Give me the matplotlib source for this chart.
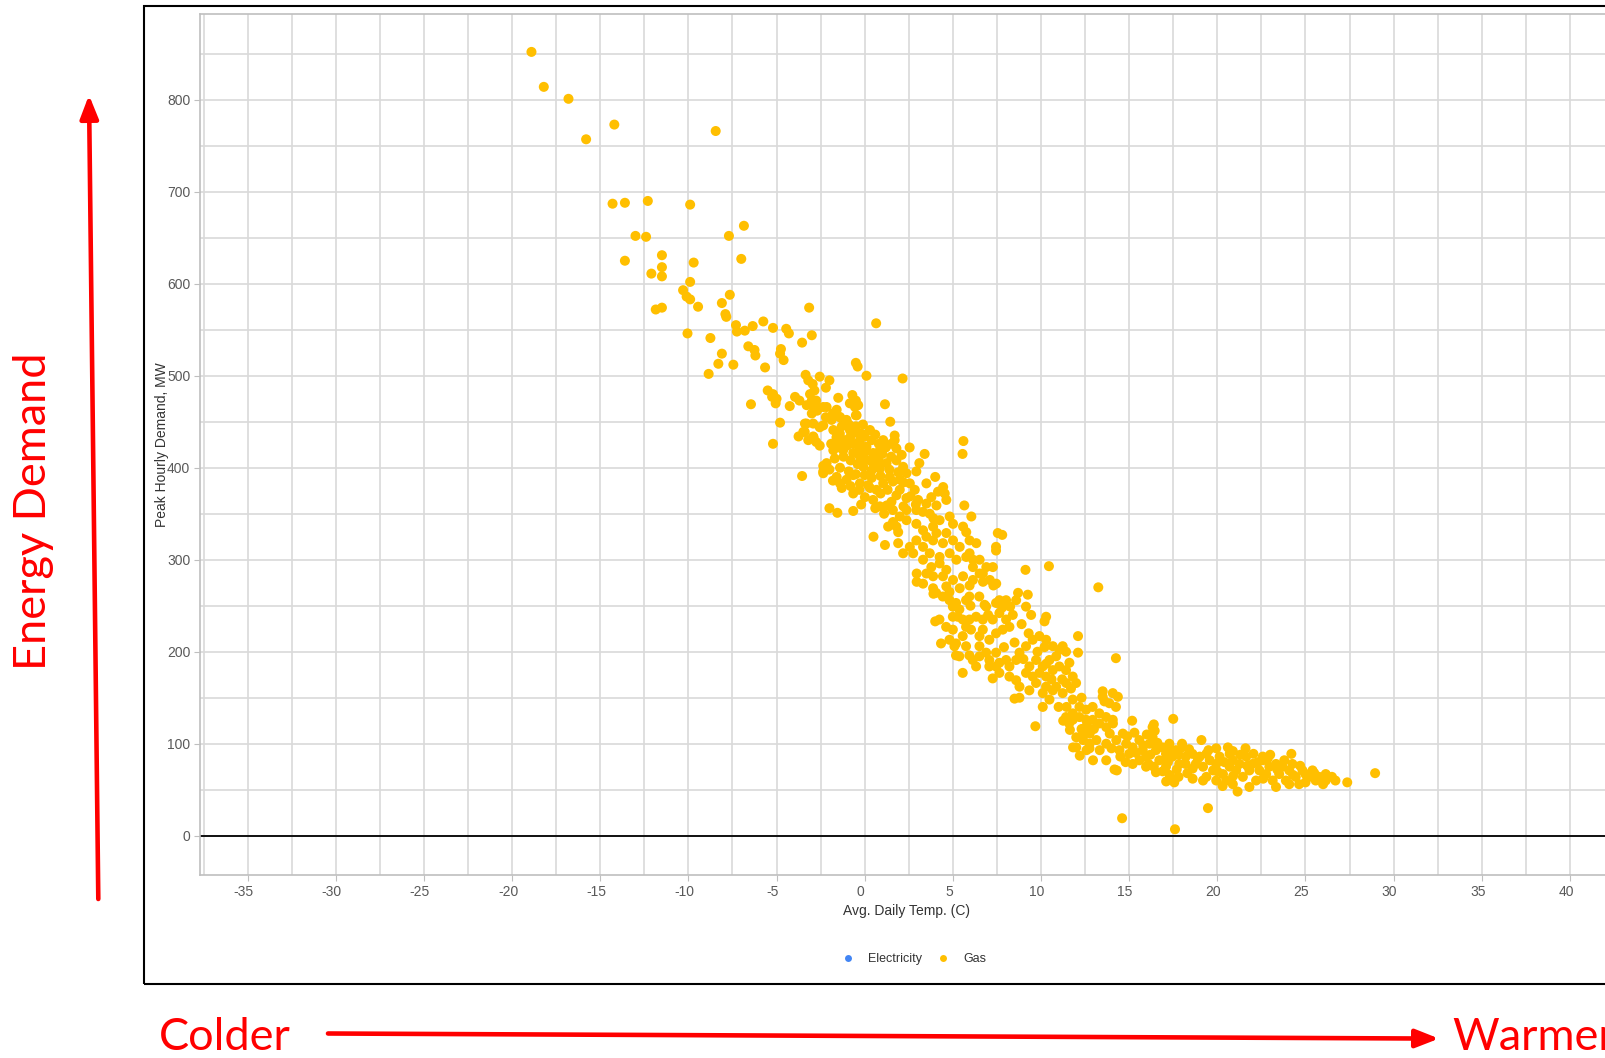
"""Peak hourly gas demand vs. average daily temperature, with red 'colder/warmer' call-outs."""

import matplotlib

matplotlib.use("Agg")
import matplotlib.pyplot as plt  # noqa: E402
import numpy as np  # noqa: E402
from matplotlib.lines import Line2D  # noqa: E402
from matplotlib.patches import FancyArrowPatch, Rectangle  # noqa: E402
from matplotlib.transforms import ScaledTranslation  # noqa: E402

plt.rcParams["font.family"] = ["Liberation Sans", "DejaVu Sans"]
plt.rcParams["axes.unicode_minus"] = False

# (avg daily temp C, peak hourly demand MW)
cold_tail = [
    (-18.9, 852), (-18.2, 814), (-16.8, 801), (-14.2, 773), (-15.8, 757), (-8.45, 766),
    (-14.3, 687), (-13.6, 688), (-12.3, 690), (-9.9, 686), (-6.85, 663), (-7.7, 652),
    (-13.0, 652), (-12.4, 651), (-13.6, 625), (-11.5, 631), (-11.5, 618), (-11.5, 608),
    (-12.1, 611), (-9.7, 623), (-7.0, 627), (-9.9, 602), (-10.3, 593), (-10.1, 586),
    (-9.9, 583), (-9.45, 575), (-11.85, 572), (-11.5, 574), (-8.1, 579), (-7.65, 588),
    (-7.9, 567), (-7.85, 564), (-7.3, 555), (-7.25, 548), (-6.8, 549), (-6.35, 554),
    (-5.75, 559), (-5.2, 552), (-4.45, 551), (-4.3, 546), (-10.05, 546), (-8.75, 541),
    (-8.1, 524), (-6.6, 532), (-6.25, 528), (-6.2, 522), (-4.75, 529), (-4.8, 524),
    (-3.15, 574), (0.65, 557), (-3.0, 544), (-3.55, 536), (-4.6, 517),
    (-8.85, 502), (-8.3, 513), (-7.45, 512), (-5.65, 509),
]

upper_band = [
    (-6.45, 469), (-5.5, 484), (-5.2, 480), (-5.0, 475), (-5.05, 470), (-5.25, 477),
    (-4.25, 467), (-3.95, 477), (-3.7, 473), (-4.8, 449), (-5.2, 426), (-3.55, 391),
    (-3.75, 434), (-3.4, 439), (-3.3, 448), (-3.35, 501), (-3.2, 495), (-2.95, 491),
    (-2.85, 484), (-3.1, 480), (-3.0, 473), (-2.75, 473), (-2.85, 466), (-2.55, 499),
    (-2.0, 495), (-2.2, 487), (-3.0, 459), (-2.7, 462), (-2.35, 466), (-2.55, 444),
    (-2.2, 455), (-1.8, 459), (-1.4, 455), (-2.9, 433), (-2.75, 428), (-2.55, 424),
    (-1.5, 476), (-0.7, 479), (-0.5, 473), (-0.55, 466), (-0.5, 457), (-0.5, 514),
    (-0.4, 510), (0.1, 500), (2.15, 497), (1.15, 469), (1.45, 450), (1.7, 435),
    (1.7, 430), (2.55, 422), (1.05, 430), (-1.05, 451), (3.4, 415), (5.6, 429),
    (5.55, 415), (3.1, 405), (4.0, 390), (3.5, 383), (4.45, 379),
    (-2.35, 402), (-2.35, 394), (-2.0, 356), (-1.55, 351), (-0.65, 353), (-1.8, 386),
    (-1.4, 383),
]

core = [
    (-3.29, 468), (-2.82, 470), (-2.16, 466), (-1.59, 463), (-0.84, 470), (-0.37, 468),
    (-0.46, 457), (-1.03, 452), (-1.41, 455), (-1.88, 452), (-2.35, 446), (-2.92, 448),
    (-3.39, 448), (-3.48, 439), (-2.92, 434), (-3.2, 430), (-1.78, 441), (-1.41, 437),
    (-0.84, 441), (-1.59, 426), (-1.12, 430), (-0.65, 426), (-0.18, 437), (-0.27, 430),
    (0.1, 423), (0.48, 416), (1.52, 426), (1.8, 421), (0.86, 419), (0.29, 408),
    (-0.27, 412), (-0.65, 416), (-1.22, 419), (-1.78, 419), (-2.16, 405), (-2.35, 396),
    (-1.59, 390), (-1.03, 387), (-0.65, 392), (-0.08, 401), (0.39, 397), (0.86, 399),
    (1.24, 405), (1.8, 408), (2.18, 401), (2.37, 394), (1.99, 387), (1.42, 390),
    (1.05, 383), (0.67, 376), (0.2, 381), (-0.27, 383), (-0.65, 372), (0.01, 368),
    (0.48, 365), (0.86, 358), (1.52, 363), (1.99, 376), (2.56, 383), (2.93, 396),
    (2.84, 376), (2.37, 367), (3.03, 365), (3.5, 361), (3.78, 368), (4.16, 374),
    (4.54, 372), (4.63, 365), (4.07, 359), (3.69, 350), (2.93, 354), (2.37, 354),
    (1.99, 347), (1.61, 341), (1.33, 336), (1.8, 336), (2.37, 343), (2.93, 339),
    (-1.3, 445), (-0.9, 447), (-0.5, 445), (-0.1, 447), (0.3, 441), (0.6, 436),
    (-1.6, 433), (-0.8, 434), (-0.4, 438), (0.0, 434), (0.4, 430), (0.8, 426),
    (1.2, 422), (-1.9, 426), (-1.4, 422), (-1.0, 424), (-0.3, 421), (0.1, 418),
    (0.6, 412), (1.0, 415), (1.5, 412), (2.1, 414), (-1.7, 410), (-1.2, 412),
    (-0.8, 408), (-0.4, 404), (0.0, 409), (0.5, 404), (0.8, 407), (1.4, 398),
    (1.9, 395), (-2.0, 398), (-1.4, 400), (-0.9, 396), (-0.5, 393), (0.0, 392),
    (0.4, 389), (0.9, 391), (1.6, 385), (2.2, 384), (-1.3, 378), (-0.8, 380),
    (-0.3, 376), (0.3, 378), (0.9, 372), (1.3, 376), (1.8, 370), (2.6, 369),
    (-0.2, 360), (0.6, 356), (1.1, 350), (1.6, 354), (2.2, 358), (2.9, 360),
    (3.3, 352), (3.9, 345),
]

mid_upper = [
    (3.31, 332), (3.88, 336), (4.25, 343), (4.82, 347), (5.01, 339), (5.58, 336),
    (5.76, 330), (4.63, 329), (4.07, 329), (3.5, 325), (2.93, 321), (2.56, 314),
    (2.18, 307), (2.75, 307), (3.31, 314), (3.88, 321), (4.44, 318), (5.01, 321),
    (5.39, 314), (5.95, 321), (6.33, 318), (4.82, 307), (4.25, 303), (3.69, 307),
    (3.31, 300), (3.78, 292), (4.25, 296), (4.63, 289), (5.2, 300), (5.76, 303),
    (6.14, 292), (6.52, 300), (6.9, 292), (7.27, 292), (6.52, 285), (6.14, 278),
    (5.58, 282), (5.01, 278), (4.44, 282), (3.88, 282), (3.5, 285), (3.31, 274),
    (3.88, 269), (4.63, 271), (5.39, 269), (5.95, 272), (6.71, 276), (7.46, 274),
    (0.5, 325), (1.15, 316), (1.9, 318), (1.9, 330), (1.25, 359), (5.65, 359),
    (6.05, 347), (7.55, 329), (7.8, 327), (7.45, 314), (7.45, 310), (2.95, 285),
    (2.95, 276), (3.9, 263), (6.7, 285), (5.95, 307), (6.15, 300), (7.1, 278),
    (7.3, 272),
]

mid_band = [
    (8.7, 264), (9.25, 262), (8.59, 256), (9.44, 240), (9.12, 289), (10.45, 293),
    (13.25, 270), (8.02, 256), (7.64, 256), (7.45, 253), (6.8, 251), (10.29, 238),
    (10.2, 233), (12.1, 217), (12.1, 199), (11.23, 206), (11.42, 200), (14.25, 193),
    (4.0, 233), (4.33, 209), (5.56, 177), (5.94, 196), (5.18, 196), (5.09, 206),
    (7.26, 171), (8.5, 149), (8.78, 150), (9.68, 119), (13.5, 157), (13.6, 146),
    (4.81, 256), (5.0, 249), (5.18, 253), (5.37, 246), (5.75, 256), (5.94, 260),
    (5.28, 238), (5.56, 235), (5.75, 227), (6.32, 238), (6.7, 235), (6.89, 249),
    (7.26, 235), (7.64, 242), (8.02, 235), (8.21, 227), (7.83, 224), (7.45, 220),
    (7.07, 213), (6.7, 224), (6.51, 217), (6.51, 206), (6.89, 199), (7.07, 191),
    (7.45, 199), (7.64, 188), (8.02, 191), (8.21, 184), (8.59, 191), (8.78, 199),
    (9.15, 206), (9.53, 213), (9.91, 217), (10.29, 213), (10.67, 206), (11.04, 202),
    (10.86, 195), (10.48, 191), (10.1, 184), (9.72, 191), (9.34, 184), (9.15, 177),
    (9.53, 173), (9.91, 177), (10.29, 173), (10.67, 180), (11.04, 184), (11.42, 180),
    (11.61, 188), (11.8, 173), (11.99, 166), (11.42, 166), (10.86, 162), (10.29, 162),
    (9.72, 166), (9.34, 158), (8.78, 162), (8.59, 169), (8.21, 173), (7.64, 177),
    (7.45, 184), (7.07, 184), (10.1, 155), (10.48, 148), (10.1, 140), (10.67, 158),
    (11.23, 155), (11.8, 148), (12.18, 140), (12.56, 137), (12.93, 140), (13.31, 133),
    (13.69, 129), (14.07, 126), (12.56, 126), (11.8, 126), (11.42, 129), (12.18, 129),
    (12.93, 126), (13.31, 122), (13.88, 144), (13.5, 151), (14.07, 155), (14.25, 140),
    (4.05, 264), (4.43, 260), (4.81, 265), (5.0, 238), (4.24, 235), (4.62, 227),
    (5.0, 224), (4.81, 213), (5.18, 209), (5.56, 217), (5.75, 206), (5.37, 195),
    (6.13, 191), (6.32, 184), (6.51, 195), (5.94, 235), (6.03, 224),
    (9.15, 249), (8.25, 249), (10.2, 205), (10.3, 187),
    (6.0, 250), (6.5, 260), (7.0, 240), (7.8, 248), (8.4, 240), (8.9, 230),
    (9.3, 220), (8.5, 210), (7.9, 205), (9.0, 192), (9.8, 200), (10.6, 170),
    (11.2, 170), (11.7, 160), (12.3, 150), (11.0, 140), (12.4, 112),
]

lower_band = [
    (11.26, 125), (11.64, 115), (12.0, 107), (12.0, 96), (12.39, 104), (12.76, 100),
    (12.76, 111), (13.14, 104), (13.33, 93), (13.7, 100), (13.9, 111), (14.08, 122),
    (14.27, 104), (14.45, 93), (14.64, 111), (14.83, 100), (15.0, 89), (15.2, 96),
    (15.58, 104), (15.77, 93), (15.96, 86), (16.15, 100), (16.33, 107), (16.52, 93),
    (16.71, 82), (16.9, 96), (17.09, 89), (17.28, 100), (17.46, 86), (17.65, 93),
    (17.84, 78), (18.0, 96), (18.21, 86), (18.59, 89), (18.78, 78), (14.17, 72),
    (16.52, 69), (17.56, 58), (18.6, 73), (15.17, 125), (16.33, 118), (12.2, 87),
    (12.95, 82), (11.82, 96), (12.58, 93), (13.7, 82), (15.2, 78), (15.96, 75),
    (17.09, 75), (15.58, 82), (14.36, 151), (17.5, 127), (14.6, 19), (17.6, 7),
    (11.45, 140), (11.8, 133), (12.6, 120), (13.0, 116), (12.3, 116), (11.6, 122),
    (13.7, 118), (14.3, 71), (16.1, 78), (17.1, 59), (16.4, 75), (16.9, 70),
    (17.3, 66), (17.8, 64), (18.3, 68), (18.6, 62), (17.2, 80), (18.2, 78),
    (16.4, 121), (16.45, 114), (12.75, 95),
    (14.0, 95), (14.5, 86), (14.9, 108), (15.4, 90), (15.8, 98), (16.2, 88),
    (16.6, 101), (17.0, 82), (17.4, 93), (17.8, 88), (18.4, 94), (18.9, 84),
    (15.3, 112), (14.8, 80), (16.0, 110), (17.7, 72), (18.0, 100),
]

warm_tail = [
    (19.1, 104), (19.94, 95), (20.88, 92), (21.6, 95), (22.05, 89), (24.2, 89),
    (22.86, 84), (21.15, 48), (20.3, 54), (19.47, 30), (27.37, 58), (26.7, 60),
    (26.15, 67), (25.58, 60), (25.0, 67), (28.95, 68),
    (19.0, 86), (19.19, 75), (19.38, 64), (19.57, 82), (19.76, 71), (19.94, 78),
    (20.13, 86), (20.32, 67), (20.5, 60), (20.7, 75), (20.88, 82), (21.07, 71),
    (21.26, 78), (21.45, 64), (21.64, 86), (21.82, 71), (22.0, 78), (22.2, 60),
    (22.39, 71), (22.58, 82), (22.77, 67), (22.95, 75), (23.14, 60), (23.33, 78),
    (23.51, 67), (23.7, 75), (23.89, 60), (24.08, 71), (24.26, 78), (24.45, 64),
    (24.64, 56), (24.83, 71), (25.2, 64), (25.4, 71), (25.77, 64), (26.15, 60),
    (26.5, 64), (19.19, 60), (19.94, 60), (20.88, 56), (21.82, 53), (19.38, 89),
    (20.7, 89), (22.58, 86), (23.33, 53), (24.08, 56), (20.6, 96),
    (19.5, 93), (20.0, 70), (20.4, 80), (20.9, 65), (21.3, 88), (21.7, 76),
    (22.3, 80), (22.6, 62), (23.0, 88), (23.4, 72), (23.8, 82), (24.3, 66),
    (24.7, 76), (25.0, 58), (25.5, 68), (26.0, 56),
]

x_ticks = list(range(-35, 45, 5))
y_ticks = list(range(0, 900, 100))
legend_labels = ["Electricity", "Gas"]

GAS = "#FFBF00"
ELEC = "#4285F4"
GRID = "#d9d9d9"
RED = "#FF0000"

W, H = 1606, 1058


def main():
    gas = np.array(cold_tail + upper_band + core + mid_upper + mid_band + lower_band + warm_tail)

    fig = plt.figure(figsize=(W / 100, H / 100), dpi=100)
    ax = fig.add_axes([200 / W, 1 - 875 / H, 1414 / W, 861 / H])

    ax.scatter(gas[:, 0], gas[:, 1], s=52, c=GAS, edgecolors="none", zorder=3)
    ax.axhline(0, color="black", lw=1.3, zorder=2)

    ax.set_xlim(-37.7, 42.46)
    ax.set_ylim(-42.7, 893.2)
    ax.set_xticks(x_ticks)
    ax.set_xticks(np.arange(-37.5, 45, 2.5), minor=True)
    ax.set_yticks(y_ticks)
    ax.set_yticks(np.arange(50, 900, 50), minor=True)
    ax.grid(True, which="both", color=GRID, lw=1.2)
    ax.set_axisbelow(True)
    ax.tick_params(which="major", length=4, color="#bfbfbf", labelsize=10,
                   labelcolor="#595959", pad=3)
    ax.tick_params(which="minor", length=0)
    for sp in ax.spines.values():
        sp.set_color("#bfbfbf")
        sp.set_linewidth(1.2)

    # the original's x tick labels sit a few pixels left of their gridlines
    shift = ScaledTranslation(-4 / 100, 0, fig.dpi_scale_trans)
    for lab in ax.get_xticklabels():
        lab.set_transform(lab.get_transform() + shift)

    ax.set_xlabel("Avg. Daily Temp. (C)", fontsize=10, color="#333333")
    ax.xaxis.set_label_coords(0.5, -0.034)
    ax.set_ylabel("Peak Hourly Demand, MW", fontsize=10, color="#333333")
    ax.yaxis.set_label_coords(-0.022, 0.5)

    handles = [Line2D([], [], ls="none", marker="o", ms=5, mfc=c, mec="none")
               for c in (ELEC, GAS)]
    fig.legend(handles, legend_labels, loc="center", bbox_to_anchor=(914 / W, 1 - 959 / H),
               ncol=2, frameon=False, fontsize=9, handletextpad=1.1,
               columnspacing=1.2, handlelength=1.0, labelcolor="#333333")

    # outer frame of the original screenshot
    fig.add_artist(Rectangle((144 / W, 1 - 984 / H), 1.0, (984 - 6) / H,
                             transform=fig.transFigure, fill=False, ec="black", lw=1.5))

    # red call-outs
    red_font = dict(color=RED, fontsize=32.5, family="Lato")
    fig.text(34 / W, 1 - 511 / H, "Energy Demand", rotation=90, ha="center", va="center",
             **red_font)
    fig.text(159 / W, 1 - 1037 / H, "Colder", ha="left", va="center", **red_font)
    fig.text(1452 / W, 1 - 1037 / H, "Warmer", ha="left", va="center", **red_font)

    style = "-|>,head_length=14,head_width=5.5"
    fig.add_artist(FancyArrowPatch((98.3 / W, 1 - 899 / H), (89 / W, 1 - 95 / H),
                                   transform=fig.transFigure, arrowstyle=style,
                                   mutation_scale=1, color=RED, lw=3.3,
                                   shrinkA=0, shrinkB=0))
    fig.add_artist(FancyArrowPatch((328 / W, 1 - 1033.5 / H), (1439 / W, 1 - 1038.6 / H),
                                   transform=fig.transFigure, arrowstyle=style,
                                   mutation_scale=1, color=RED, lw=3.3,
                                   shrinkA=0, shrinkB=0))

    fig.savefig("out.png", dpi=100)
    plt.close(fig)


if __name__ == "__main__":
    main()
